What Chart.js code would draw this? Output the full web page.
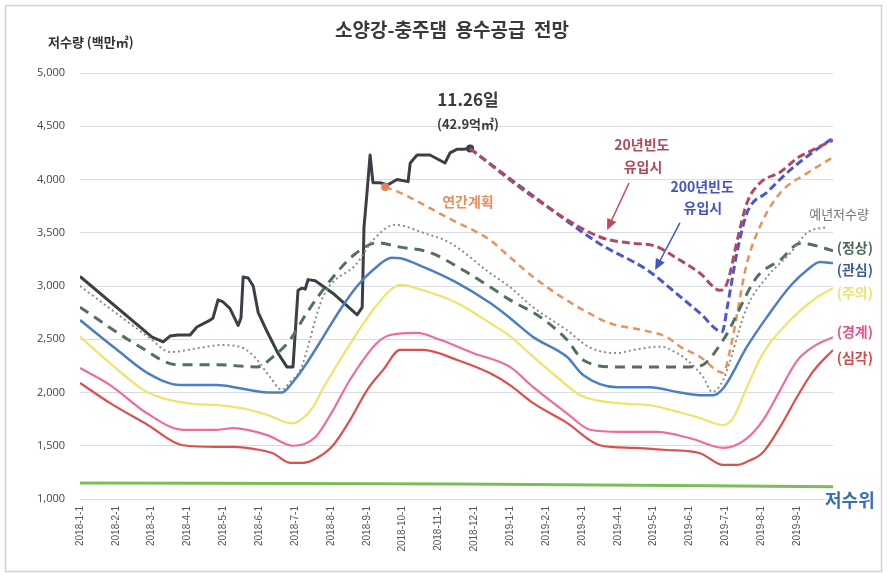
<!DOCTYPE html>
<html>
<head>
<meta charset="utf-8">
<script src="https://cdn.jsdelivr.net/npm/chart.js@4/dist/chart.umd.min.js"></script>
<style>
html,body{margin:0;padding:0;background:#fff;}
#wrap{width:887px;height:575px;position:relative;}
</style>
</head>
<body>
<div id="wrap"><canvas id="c" width="887" height="575"></canvas></div>
<script>
// x value = months since 2018-1-1
const tickLabels = ['2018-1-1','2018-2-1','2018-3-1','2018-4-1','2018-5-1','2018-6-1','2018-7-1','2018-8-1','2018-9-1','2018-10-1','2018-11-1','2018-12-1','2019-1-1','2019-2-1','2019-3-1','2019-4-1','2019-5-1','2019-6-1','2019-7-1','2019-8-1','2019-9-1'];

const actual = [[0,3090],[2.01,2520],[2.32,2475],[2.51,2530],[2.73,2540],[3.07,2540],[3.26,2615],[3.63,2680],[3.71,2700],[3.85,2870],[3.99,2850],[4.18,2790],[4.41,2630],[4.49,2700],[4.55,3085],[4.69,3075],[4.83,3000],[4.97,2750],[5.22,2570],[5.52,2370],[5.77,2240],[5.94,2240],[6.08,2960],[6.19,2980],[6.28,2970],[6.36,3060],[6.56,3050],[7.06,2930],[7.73,2730],[7.87,2800],[7.92,3550],[8.01,3900],[8.09,4230],[8.17,3970],[8.37,3970],[8.59,3950],[8.84,4000],[9.15,3980],[9.21,4155],[9.40,4230],[9.76,4230],[10.18,4155],[10.32,4250],[10.52,4285],[10.68,4285],[10.88,4290]];

const inflow20 = [[10.88,4290],[12.64,3835],[14.50,3460],[15.43,3400],[16.04,3375],[16.60,3270],[17.29,3120],[17.85,2960],[18.05,3030],[18.35,3460],[18.60,3780],[18.97,3970],[19.53,4070],[20.0,4200],[20.45,4280],[21.0,4370]];

const inflow200 = [[10.88,4290],[12.64,3845],[14.50,3395],[15.82,3150],[16.74,2900],[17.29,2745],[17.91,2570],[18.05,2800],[18.32,3310],[18.60,3685],[19.16,3880],[19.81,4090],[20.45,4260],[21.0,4390]];

const annualPlan = [[8.51,3930],[8.93,3875],[10.32,3630],[11.44,3430],[11.99,3270],[12.64,3085],[13.39,2905],[14.14,2755],[14.78,2650],[15.70,2585],[16.37,2520],[16.74,2430],[17.29,2335],[17.94,2185],[18.13,2400],[18.60,3215],[19.05,3620],[19.53,3875],[20.28,4060],[21.0,4210]];

const normalYear = [[0,3000],[1.95,2510],[2.51,2380],[3.35,2420],[3.91,2445],[4.46,2430],[4.88,2330],[5.30,2145],[5.63,2025],[5.86,2100],[6.14,2210],[6.78,2900],[7.73,3215],[8.17,3430],[8.79,3575],[9.57,3500],[10.32,3405],[11.44,3120],[11.99,2990],[12.64,2800],[13.58,2585],[14.23,2420],[14.98,2370],[15.43,2400],[16.18,2430],[16.65,2370],[16.93,2305],[17.38,2145],[17.63,2005],[17.94,2120],[18.60,2800],[19.16,3085],[19.81,3310],[20.28,3500],[20.84,3555]];

const levelNormal = [[0,2800],[1.67,2430],[2.71,2260],[3.82,2260],[4.94,2240],[5.38,2335],[5.86,2495],[6.33,2750],[7.06,3085],[7.67,3300],[8.28,3405],[8.93,3365],[9.76,3315],[10.68,3150],[11.44,2990],[11.99,2870],[12.83,2710],[13.58,2495],[14.03,2305],[14.98,2240],[16.82,2240],[17.29,2250],[17.94,2495],[18.88,3085],[19.53,3245],[20.08,3400],[20.50,3380],[21.0,3330]];

const levelAttention = [[0,2680],[1.0,2410],[1.90,2180],[2.79,2070],[3.82,2070],[4.46,2040],[5.22,2000],[5.63,2000],[5.94,2100],[6.33,2280],[6.78,2520],[7.25,2775],[7.73,3000],[8.17,3150],[8.70,3265],[8.93,3260],[9.57,3180],[10.52,3030],[11.44,2840],[11.99,2700],[12.64,2520],[13.58,2335],[14.03,2165],[14.98,2050],[15.90,2050],[16.65,2005],[17.29,1975],[17.66,1975],[17.94,2040],[18.60,2430],[19.16,2710],[19.81,3000],[20.28,3150],[20.64,3225],[21.0,3215]];

const levelCaution = [[0,2525],[0.84,2275],[1.87,2005],[2.98,1900],[3.91,1880],[4.46,1855],[5.22,1790],[5.91,1710],[6.22,1760],[6.50,1865],[6.78,2040],[7.06,2200],[7.73,2560],[8.17,2775],[8.65,2960],[8.93,3010],[9.57,2960],[10.52,2840],[11.44,2650],[11.99,2530],[12.64,2335],[13.39,2120],[13.95,1975],[14.98,1900],[15.90,1880],[16.82,1805],[17.29,1760],[17.94,1695],[18.21,1760],[18.60,2050],[19.05,2370],[19.81,2680],[20.45,2870],[21.0,2980]];

const levelAlert = [[0,2230],[0.84,2070],[1.87,1805],[2.87,1650],[3.82,1650],[4.27,1665],[5.22,1600],[5.94,1500],[6.56,1580],[7.06,1835],[7.53,2120],[8.28,2465],[8.65,2540],[9.40,2560],[10.04,2495],[10.96,2370],[11.99,2240],[12.64,2050],[13.58,1805],[14.23,1650],[15.06,1630],[16.09,1630],[17.02,1570],[17.94,1480],[18.60,1570],[19.05,1740],[19.53,2025],[20.0,2300],[20.45,2430],[21.0,2520]];

const levelSerious = [[0,2090],[0.84,1900],[1.87,1700],[2.87,1505],[3.82,1490],[4.27,1490],[5.02,1460],[5.38,1430],[5.86,1340],[6.22,1340],[6.61,1385],[7.06,1505],[7.53,1740],[8.01,2025],[8.45,2210],[8.93,2400],[9.57,2400],[10.52,2305],[11.44,2180],[11.99,2070],[12.64,1900],[13.58,1715],[14.50,1505],[15.43,1480],[16.37,1460],[17.29,1430],[17.94,1320],[18.33,1320],[18.60,1350],[19.05,1440],[19.53,1680],[20.0,1960],[20.45,2200],[21.0,2400]];

const lowWaterLevel = [[0,1150],[10.5,1140],[21.0,1115]];

const yTicks = [1000,1500,2000,2500,3000,3500,4000,4500,5000];

function pts(a){return a.map(p=>({x:p[0],y:p[1]}));}

const KR = '"Noto Sans CJK KR","Noto Sans",sans-serif';

const textPlugin = {
  id:'texts',
  beforeDraw(chart){
    const c = chart.ctx;
    c.save(); c.fillStyle='#fff'; c.fillRect(0,0,chart.width,chart.height);
    c.strokeStyle='#cfd2d6'; c.lineWidth=1.5; c.strokeRect(5.5,5.5,876,566);
    c.restore();
  },
  afterDraw(chart){
    const c = chart.ctx, xs = chart.scales.x, ys = chart.scales.y;
    const X = v=>xs.getPixelForValue(v), Y = v=>ys.getPixelForValue(v);
    function t(str,x,y,font,color,align){
      c.font=font; c.fillStyle=color; c.textAlign=align||'center'; c.textBaseline='middle'; c.fillText(str,x,y);
    }
    c.save();
    t('소양강-충주댐  용수공급  전망', 452, 30, 'bold 19px '+KR, '#3a3a3a');
    t('저수량 (백만㎥)', 48, 42, 'bold 13px '+KR, '#333', 'left');
    t('11.26일', X(10.82), Y(4747), 'bold 17px '+KR, '#3a3a3a');
    t('(42.9억㎥)', X(10.82), Y(4521), 'bold 13px '+KR, '#3a3a3a');
    t('20년빈도', X(15.67), Y(4324), 'bold 14px '+KR, '#b24a5c');
    t('유입시', X(15.70), Y(4117), 'bold 14px '+KR, '#b24a5c');
    t('200년빈도', X(17.35), Y(3930), 'bold 14px '+KR, '#4552c4');
    t('유입시', X(17.37), Y(3732), 'bold 14px '+KR, '#4552c4');
    t('연간계획', X(10.82), Y(3789), 'bold 14px '+KR, '#e39060');
    t('예년저수량', X(21.17), Y(3676), '13px '+KR, '#777');
    t('(정상)', X(21.61), Y(3357), 'bold 14px '+KR, '#4d6b55');
    t('(관심)', X(21.61), Y(3150), 'bold 14px '+KR, '#3f5f8f');
    t('(주의)', X(21.61), Y(2934), 'bold 14px '+KR, '#efe070');
    t('(경계)', X(21.61), Y(2568), 'bold 14px '+KR, '#e2508a');
    t('(심각)', X(21.61), Y(2324), 'bold 14px '+KR, '#d04c4c');
    t('저수위', X(21.47), Y(990), 'bold 18px '+KR, '#3a70b8');
    function arrow(x1,y1,x2,y2,color){
      const ax=X(x1),ay=Y(y1),bx=X(x2),by=Y(y2);
      const ang=Math.atan2(by-ay,bx-ax), L=11, W=5;
      c.strokeStyle=color; c.fillStyle=color; c.lineWidth=1.5;
      c.beginPath(); c.moveTo(ax,ay); c.lineTo(bx-Math.cos(ang)*L*0.8,by-Math.sin(ang)*L*0.8); c.stroke();
      c.beginPath(); c.moveTo(bx,by);
      c.lineTo(bx-Math.cos(ang)*L+Math.sin(ang)*W, by-Math.sin(ang)*L-Math.cos(ang)*W);
      c.lineTo(bx-Math.cos(ang)*L-Math.sin(ang)*W, by-Math.sin(ang)*L+Math.cos(ang)*W);
      c.closePath(); c.fill();
    }
    arrow(15.31,3967,14.70,3526,'#c04a5c');
    arrow(16.73,3592,16.04,3150,'#4552c4');
    c.restore();
  }
};

function ds(data,color,width,dash,extra){
  return Object.assign({data:pts(data),borderColor:color,backgroundColor:color,borderWidth:width,borderDash:dash||[],pointRadius:0,fill:false,cubicInterpolationMode:'monotone',borderCapStyle:'butt'},extra||{});
}

new Chart(document.getElementById('c'),{
  type:'line',
  data:{datasets:[
    ds(lowWaterLevel,'#7cbd55',3),
    ds(levelSerious,'#d9504e',2.2),
    ds(levelAlert,'#ec6ca0',2.2),
    ds(levelCaution,'#eee46a',2.2),
    ds(levelAttention,'#4a7fc1',2.5),
    ds(normalYear,'#8c8c8c',2,[2,3]),
    ds(levelNormal,'#52705c',3,[10,7]),
    ds(annualPlan,'#e8925c',2.5,[7,5],{pointRadius:(ctx)=>ctx.dataIndex===0?4:0,pointBackgroundColor:'#e8805a',pointBorderWidth:0}),
    ds(inflow20,'#b04a62',3,[8,4]),
    ds(inflow200,'#4a58cc',3,[8,4]),
    ds(actual,'#3b4047',3,[], {cubicInterpolationMode:'default',tension:0,borderJoinStyle:'round',pointRadius:(ctx)=>ctx.dataIndex===actual.length-1?4:0,pointBackgroundColor:'#3b4047',pointBorderWidth:0})
  ]},
  options:{
    responsive:false,animation:false,
    layout:{padding:{left:0,right:54,top:73,bottom:0}},
    plugins:{legend:{display:false},tooltip:{enabled:false},title:{display:false}},
    scales:{
      x:{type:'linear',min:0,max:21,
        afterFit(s){s.height=76;},
        afterBuildTicks(s){s.ticks=tickLabels.map((_,i)=>({value:i}));},
        grid:{display:false,drawTicks:false},border:{display:false},
        ticks:{autoSkip:false,minRotation:90,maxRotation:90,padding:7,color:'#555',font:{family:'"Liberation Sans",Arial,sans-serif',size:10},
          callback:(v)=>tickLabels[v]||''}
      },
      y:{type:'linear',min:1000,max:5000,
        afterFit(s){s.width=80;},
        afterBuildTicks(s){s.ticks=yTicks.map(v=>({value:v}));},
        grid:{color:'#d9dde3',lineWidth:1,drawTicks:false},border:{display:false},
        ticks:{padding:15,color:'#444',font:{family:'"Open Sans","Noto Sans",sans-serif',size:11},
          callback:(v)=>v.toLocaleString('en-US')}
      }
    }
  },
  plugins:[textPlugin]
});
</script>
</body>
</html>
